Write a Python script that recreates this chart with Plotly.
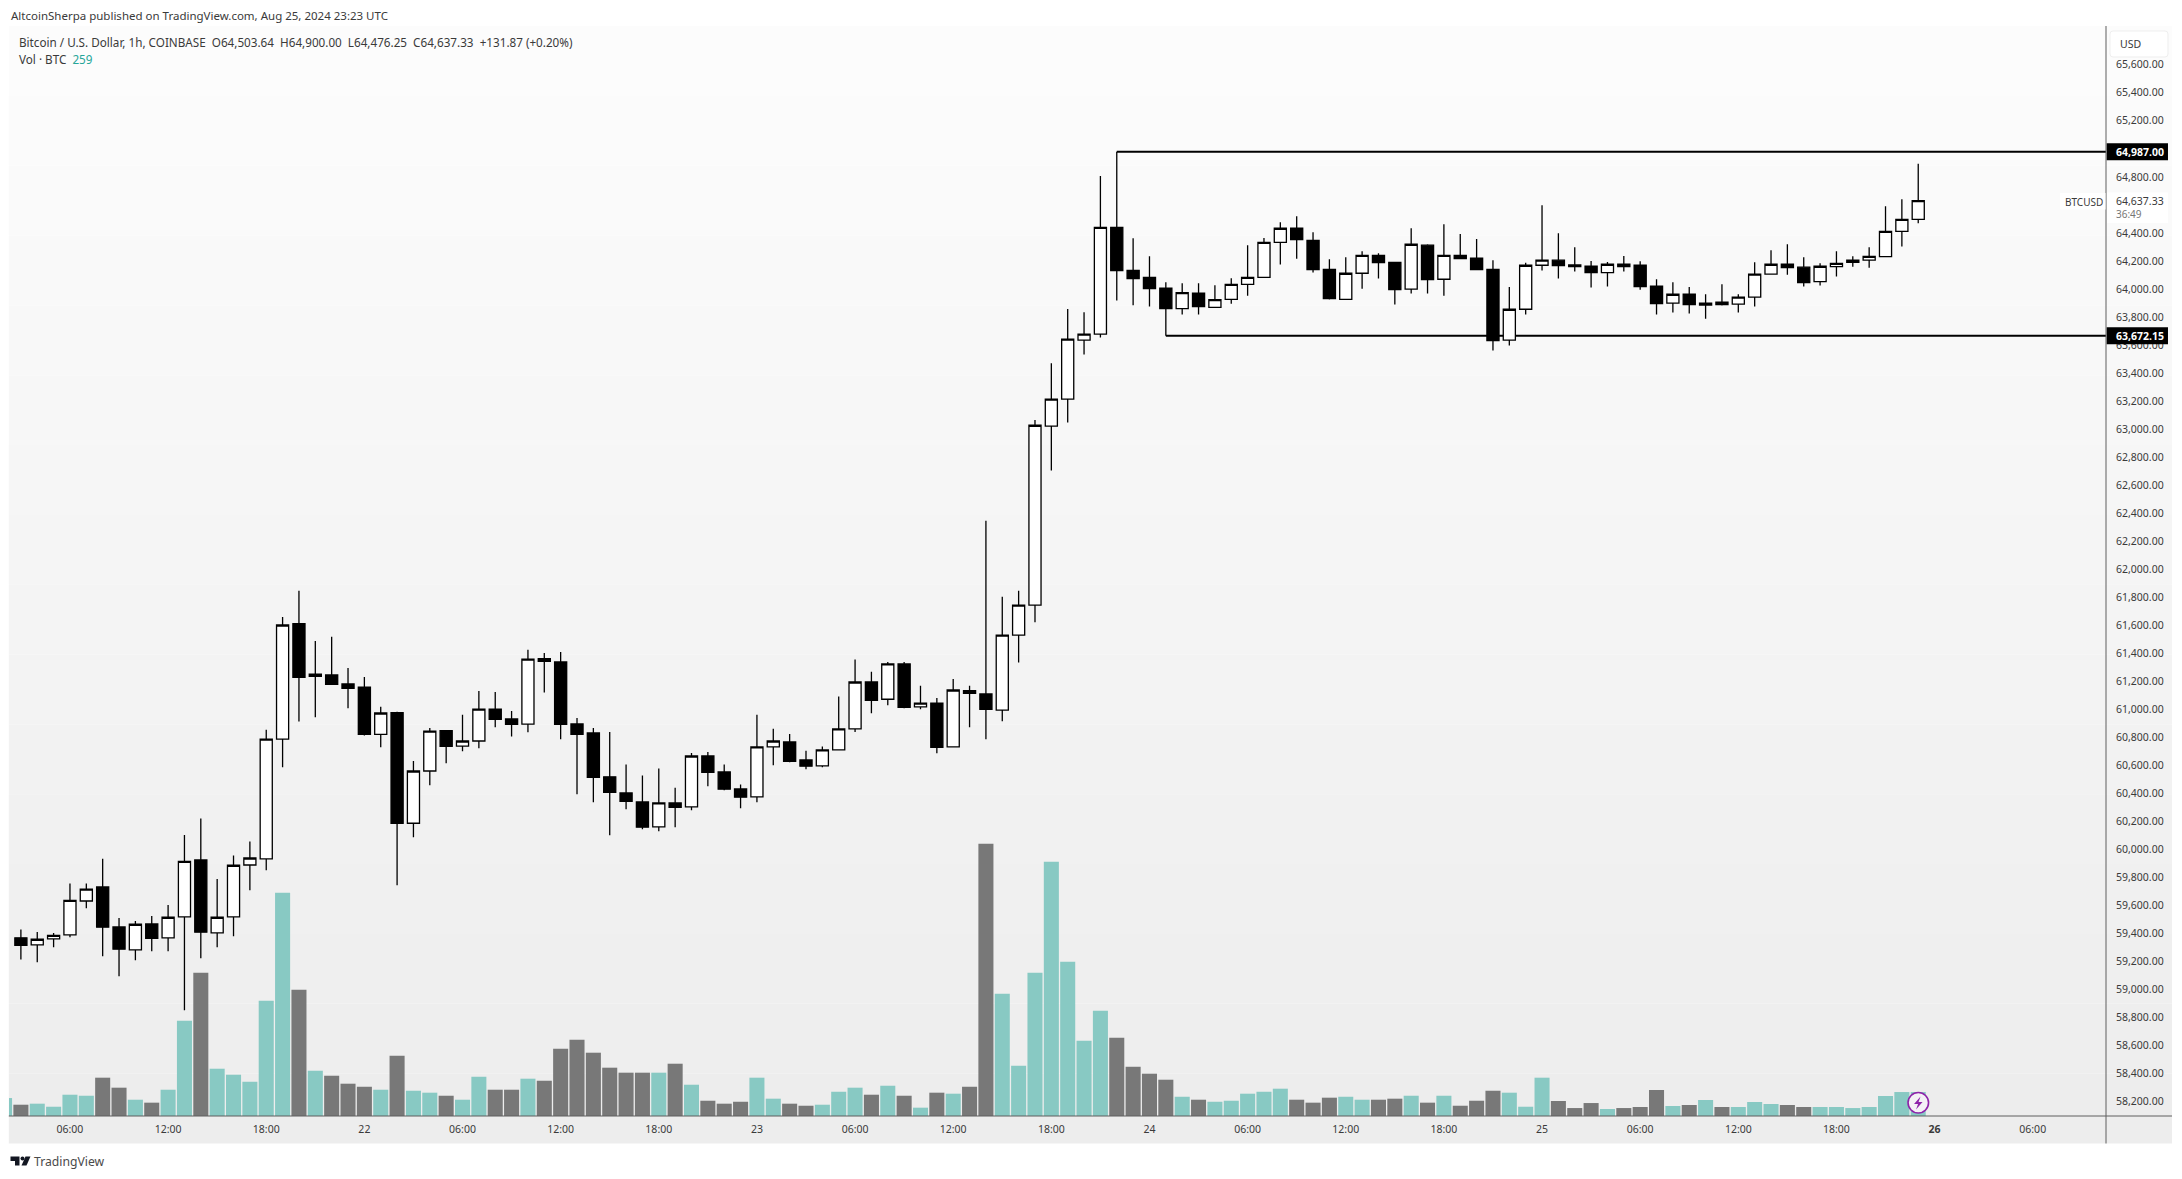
import pandas as pd
import plotly.graph_objects as go

# ---------- data ----------
opens = [59375,59325,59367,59396,59638,59738,59453,59289,59474,59374,59524,59931,59410,59524,59895,59938,60794,61617,61241,61251,
         61187,61165,60828,60982,60193,60566,60854,60744,60780,61008,60937,60901,61367,61344,60902,60837,60524,60409,60345,60167,
         60338,60310,60673,60559,60438,60381,60738,60773,60645,60602,60716,60866,61201,61078,61330,61023,61051,60738,61139,61116,
         61001,61536,61750,63027,63220,63641,63684,64447,64140,64090,64012,63867,63976,63876,63933,64040,64090,64340,64440,64354,
         64147,63933,64119,64247,64197,64005,64319,64076,64247,64226,64147,63641,63862,64176,64212,64178,64169,64124,64183,64176,
         64026,63905,63969,63891,63912,63898,63948,64112,64183,64162,64059,64166,64197,64212,64238,64418,64503.64]
highs = [59434,59417,59410,59762,59762,59940,59517,59496,59531,59610,60109,60226,59795,59962,60062,60861,61665,61853,61493,61524,
         61301,61237,61025,60989,60637,60873,60856,60968,61137,61130,60994,61432,61408,61415,60944,60873,60845,60612,60533,60583,
         60447,60695,60702,60612,60469,60968,60868,60830,60711,60740,61097,61361,61275,61344,61344,61175,61087,61223,61175,62352,
         61810,61852,63072,63477,63864,63841,64813,64987,64368,64240,64055,64047,64047,64033,64083,64319,64371,64483,64525,64411,
         64219,64233,64276,64261,64199,64440,64326,64468,64399,64364,64212,64021,64193,64604,64404,64304,64207,64200,64242,64204,
         64076,64055,64021,63969,64040,63969,64197,64283,64326,64233,64190,64276,64240,64304,64597,64647,64900]
lows = [59220,59201,59308,59379,59586,59244,59101,59215,59279,59279,58858,59229,59308,59386,59715,59857,60592,60920,60949,61184,
        61013,60820,60735,59750,60093,60464,60621,60706,60728,60878,60813,60842,61127,60792,60400,60343,60107,60293,60150,60136,
        60165,60286,60457,60428,60300,60343,60607,60628,60578,60593,60716,60845,60978,61035,61013,61006,60692,60738,60878,60792,
        60921,61341,61627,62711,63053,63539,63660,63924,63890,63881,63672.15,63824,63824,63876,63902,63959,64090,64181,64223,64124,
        63931,63933,64009,64081,63895,63974,63974,63959,64223,64145,63567,63603,63824,64138,64081,64131,64017,64024,64131,64002,
        63824,63838,63831,63795,63888,63838,63881,64112,64109,64024,64031,64095,64166,64159,64238,64309,64476.25]
closes = [59322,59365,59393,59643,59722,59451,59294,59472,59372,59522,59921,59415,59522,59893,59945,60794,61608,61234,61258,61184,
          61156,60828,60980,60193,60566,60851,60742,60780,61008,60935,60899,61365,61348,60899,60828,60521,60414,60350,60165,60338,
          60307,60673,60557,60436,60379,60738,60780,60635,60600,60716,60866,61201,61071,61330,61021,61051,60735,61144,61120,61006,
          61536,61750,63034,63220,63648,63684,64447,64138,64081,64009,63867,63981,63881,63931,64040,64090,64340,64440,64359,64145,
          63938,64119,64247,64195,64002,64326,64074,64247,64223,64145,63638,63862,64176,64212,64173,64166,64124,64183,64166,64024,
          63902,63969,63895,63905,63895,63948,64112,64183,64159,64052,64169,64190,64212,64240,64418,64504,64637.33]
# first entry belongs to the bar cut off by the left edge of the panel
volumes = [194,122,133,100,230,219,414,306,176,144,284,1029,1548,511,446,370,1245,2412,1364,489,435,
           349,316,284,651,273,252,219,176,424,284,284,403,381,727,824,684,522,468,468,468,
           565,338,165,133,154,414,187,133,111,122,262,306,230,327,219,90,252,241,316,2941,
           1321,543,1548,2746,1666,813,1137,846,532,457,392,208,176,154,165,241,262,295,176,144,
           198,208,176,176,187,219,144,219,111,165,273,252,100,414,162,86,140,76,86,97,
           281,108,119,173,97,97,151,130,119,97,97,97,86,97,216,259,259]
range_high = 64987.00
range_low = 63672.15
last_price = 64637.33
price_ticks = [58200,58400,58600,58800,59000,59200,59400,59600,59800,60000,60200,60400,60600,60800,61000,61200,61400,
               61600,61800,62000,62200,62400,62600,62800,63000,63200,63400,63600,63800,64000,64200,64400,64800,65200,65400,65600]
time_tick_dates = ["2024-08-21 06:00","2024-08-21 12:00","2024-08-21 18:00","2024-08-22 00:00","2024-08-22 06:00","2024-08-22 12:00",
                   "2024-08-22 18:00","2024-08-23 00:00","2024-08-23 06:00","2024-08-23 12:00","2024-08-23 18:00","2024-08-24 00:00",
                   "2024-08-24 06:00","2024-08-24 12:00","2024-08-24 18:00","2024-08-25 00:00","2024-08-25 06:00","2024-08-25 12:00",
                   "2024-08-25 18:00","2024-08-26 00:00","2024-08-26 06:00"]
time_tick_labels = ["06:00","12:00","18:00","22","06:00","12:00","18:00","23","06:00","12:00","18:00","24",
                    "06:00","12:00","18:00","25","06:00","12:00","18:00","<b>26</b>","06:00"]

# ---------- layout constants ----------
W, H = 2182, 1179
PL, PR, PT, PB = 8.5, 2106.0, 26.0, 1116.5
FONT = "Noto Sans"
TXT = "#3a3a3a"
UP_VOL, DOWN_VOL = "#88c9c3", "#787878"
PX_PER_BTC = 1 / 10.8

def ax(x): return (x - PL) / (PR - PL)
def ay(y): return (PB - y) / (PB - PT)

times = pd.date_range("2024-08-21 03:00", periods=len(opens), freq="h")
vol_times = pd.date_range("2024-08-21 02:00", periods=len(volumes), freq="h")
vol_colors = [UP_VOL] + [UP_VOL if c >= o else DOWN_VOL for o, c in zip(opens, closes)]
x_start = times[0] - pd.Timedelta(hours=0.727)
x_end = times[0] + pd.Timedelta(hours=127.48)

# price scale: 7.135 $ per pixel, anchored on the upper range line at y=151.7
price_top = range_high + (151.7 - PT) * 7.135
price_bot = range_high - (PB - 151.7) * 7.135

fig = go.Figure()
fig.add_trace(go.Bar(x=vol_times, y=volumes, marker=dict(color=vol_colors, line_width=0),
                     xaxis="x", yaxis="y", hoverinfo="skip"))
fig.add_trace(go.Candlestick(x=times, open=opens, high=highs, low=lows, close=closes,
                             xaxis="x", yaxis="y2", whiskerwidth=0,
                             increasing=dict(fillcolor="#ffffff", line=dict(color="#000000", width=1.3)),
                             decreasing=dict(fillcolor="#000000", line=dict(color="#000000", width=1.3))))

shapes = []
# panel background: vertical light-grey ramp
levels = list(range(252, 236, -1))
top, bot = 26.0, 1144.0
for k, g in enumerate(levels):
    shapes.append(dict(type="rect", xref="paper", yref="paper", layer="below", line_width=0,
                       x0=ax(8.3), x1=ax(2172), y0=ay(top + (bot - top) * k / len(levels)),
                       y1=ay(top + (bot - top) * (k + 1) / len(levels)), fillcolor=f"rgb({g},{g},{g})"))
# range lines start on the wick that made the extreme
i_hi = highs.index(range_high)
i_lo = lows.index(range_low)
for i, p in ((i_hi, range_high), (i_lo, range_low)):
    shapes.append(dict(type="line", xref="x", yref="y2", x0=times[i], x1=x_end, y0=p, y1=p,
                       line=dict(color="#000000", width=2), layer="below"))
# axis lines
shapes.append(dict(type="line", xref="paper", yref="paper", x0=ax(2106), x1=ax(2106), y0=ay(26), y1=ay(1144),
                   line=dict(color="#5f5f5f", width=1)))
shapes.append(dict(type="line", xref="paper", yref="paper", x0=ax(8.3), x1=ax(2172), y0=ay(1116.5), y1=ay(1116.5),
                   line=dict(color="#5f5f5f", width=1)))

def path(cmds):
    out = []
    for c in cmds:
        if len(c) == 1:
            out.append(c[0])
        else:
            pts = " ".join(f"{ax(c[i])},{ay(c[i + 1])}" for i in range(1, len(c), 2))
            out.append(f"{c[0]} {pts}")
    return " ".join(out)

# USD button
x0, x1, y0, y1, r = 2110, 2168, 31, 57, 3
shapes.append(dict(type="path", xref="paper", yref="paper", fillcolor="#ffffff", line=dict(color="#eeeeee", width=1),
                   path=path([("M", x0 + r, y0), ("L", x1 - r, y0), ("Q", x1, y0, x1, y0 + r), ("L", x1, y1 - r),
                              ("Q", x1, y1, x1 - r, y1), ("L", x0 + r, y1), ("Q", x0, y1, x0, y1 - r), ("L", x0, y0 + r),
                              ("Q", x0, y0, x0 + r, y0), ("Z",)])))
# white box behind the last-price label and the symbol tag
shapes.append(dict(type="rect", xref="paper", yref="paper", x0=ax(2107), x1=ax(2168), y0=ay(192.5), y1=ay(223),
                   fillcolor="#ffffff", line_width=0))
shapes.append(dict(type="rect", xref="paper", yref="paper", x0=ax(2060), x1=ax(2105.5), y0=ay(193), y1=ay(209.5),
                   fillcolor="#ffffff", line_width=0))
# TradingView mark
for cmds in ([("M", 10, 1157), ("L", 19, 1157), ("L", 19, 1166), ("L", 14.5, 1166), ("L", 14.5, 1161.5), ("L", 10, 1161.5), ("Z",)],
             [("M", 25, 1157), ("L", 30, 1157), ("L", 26, 1166), ("L", 21, 1166), ("Z",)]):
    shapes.append(dict(type="path", xref="paper", yref="paper", fillcolor="#131722", line_width=0, path=path(cmds)))
shapes.append(dict(type="circle", xref="paper", yref="paper", fillcolor="#131722", line_width=0,
                   x0=ax(20), x1=ax(24), y0=ay(1157), y1=ay(1161)))
# purple bolt badge on the last bar
shapes.append(dict(type="circle", xref="paper", yref="paper", fillcolor="#f4f1f6", line=dict(color="#8e24aa", width=1.6),
                   x0=ax(1908), x1=ax(1928.5), y0=ay(1093), y1=ay(1113.5)))
shapes.append(dict(type="path", xref="paper", yref="paper", fillcolor="#8e24aa", line_width=0,
                   path=path([("M", 1920.5, 1097), ("L", 1914, 1104.5), ("L", 1918, 1104.5), ("L", 1916, 1110),
                              ("L", 1922.5, 1102.5), ("L", 1918.5, 1102.5), ("Z",)])))

def note(text, x, y, size=10.5, color=TXT, xanchor="left", **kw):
    return dict(text=text, x=ax(x), y=ay(y), xref="paper", yref="paper", showarrow=False, xanchor=xanchor,
                yanchor="middle", font=dict(family=FONT, size=size, color=color), borderpad=0, **kw)

annotations = [
    note("AltcoinSherpa published on TradingView.com, Aug 25, 2024 23:23 UTC", 10, 15, size=11.5),
    note("Bitcoin / U.S. Dollar, 1h, COINBASE\u00a0\u00a0O64,503.64\u00a0\u00a0H64,900.00\u00a0\u00a0L64,476.25\u00a0\u00a0"
         "C64,637.33\u00a0\u00a0+131.87 (+0.20%)", 18, 42, size=11.7),
    note("Vol \u00b7 BTC\u00a0\u00a0<span style='color:#26a69a'>259</span>", 18, 59, size=11.7),
    note("USD", 2119, 44, size=10.5),
    note("BTCUSD", 2064, 202, size=10),
    note(f"{last_price:,.2f}", 2115, 201, size=10.5),
    note("36:49", 2115, 214, size=10, color="#777777"),
    note("TradingView", 33, 1162, size=12.2, color="#4a4a4a"),
]
for p in (range_high, range_low):
    y = 151.7 + (range_high - p) / 7.135
    annotations.append(note(f"<b>{p:,.2f}</b>", 2115, y, size=10.5, color="#ffffff"))
    shapes.append(dict(type="rect", xref="paper", yref="paper", x0=ax(2106.7), x1=ax(2168), y0=ay(y - 8.5), y1=ay(y + 8.5),
                       fillcolor="#000000", line_width=0))

fig.update_layout(
    width=W, height=H, autosize=False, showlegend=False, bargap=0.08, boxgap=0.26, boxgroupgap=0,
    margin=dict(l=PL, r=W - PR, t=PT, b=H - PB, pad=0),
    paper_bgcolor="#ffffff", plot_bgcolor="rgba(0,0,0,0)",
    font=dict(family=FONT, size=10.5, color=TXT),
    xaxis=dict(type="date", range=[x_start, x_end], rangeslider=dict(visible=False), showgrid=False, zeroline=False,
               tickmode="array", tickvals=time_tick_dates, ticktext=time_tick_labels, ticks="", showline=False,
               tickfont=dict(family=FONT, size=10.5, color=TXT), ticklabelstandoff=5, automargin=False),
    yaxis=dict(range=[0, (PB - PT) / PX_PER_BTC], visible=False, fixedrange=True),
    yaxis2=dict(overlaying="y", side="right", range=[price_bot, price_top], showgrid=False, zeroline=False, showline=False,
                tickmode="array", tickvals=price_ticks, tickformat=",.2f", ticks="", ticklabelstandoff=9, ticklabelshift=-1,
                tickfont=dict(family=FONT, size=10.5, color=TXT), automargin=False),
    shapes=shapes, annotations=annotations,
)

fig.write_html("out.html", config=dict(displayModeBar=False), post_script="document.body.style.margin='0';")
